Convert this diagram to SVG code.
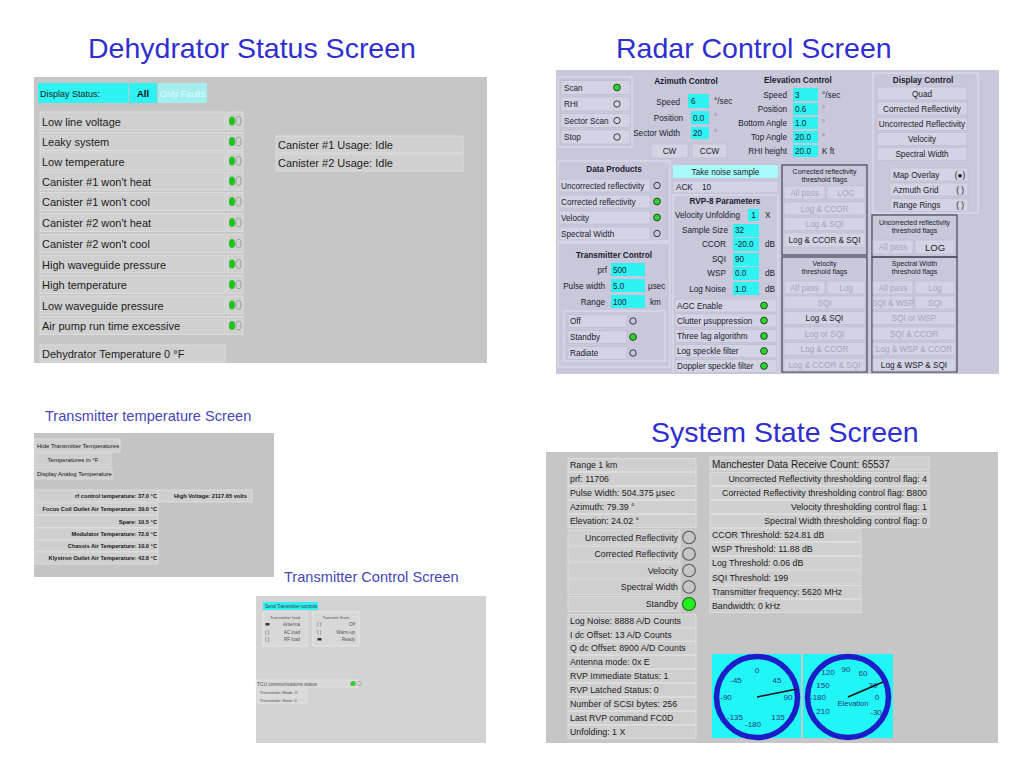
<svg xmlns="http://www.w3.org/2000/svg" width="1024" height="768" viewBox="0 0 1024 768">
<style>
text{font-family:"Liberation Sans",Arial,"DejaVu Sans",sans-serif}
.ttl{font-size:28.5px;fill:#2f2fd0}
.sub{font-size:14.6px;fill:#4646b8}
.m{text-anchor:middle}
.e{text-anchor:end}
.b{font-weight:bold}
.dh{font-size:11px;fill:#1c1c1c}
.dpanel{fill:#c6c6c6}
.drow{fill:#d0d0d0;stroke:#e2e2e2;stroke-width:0.8}
.r{font-size:8.2px;fill:#1b1b2e}
.rd{fill:#a6a6bc}
.rpanel{fill:#c8c8da}
.rbtn{fill:#d3d3e3;stroke:#bdbdd0;stroke-width:0.7}
.cy{fill:#2ff3f3}
.gl{fill:none;stroke:#e0e0ee;stroke-width:1}
.gd{fill:none;stroke:#4e4e62;stroke-width:1.3}
.tt{font-size:5.7px;fill:#161616;font-weight:bold}
.tc{font-size:4.6px;fill:#555}
.ss{font-size:8.8px;fill:#202020}
.srow{fill:#cfcfcf;stroke:#e0e0e0;stroke-width:0.8}
.gauge{fill:none;stroke:#1c1cc8;stroke-width:5.5}
.gt{font-size:8px;fill:#1f3c80;text-anchor:middle}
</style>
<defs>
<g id="dled"><ellipse cx="-3" cy="0" rx="3" ry="4.6" fill="#1fc21f"/><ellipse cx="3.5" cy="0" rx="2.6" ry="4.4" fill="none" stroke="#8aa88a" stroke-width="1"/></g>
<circle id="lon" r="3.4" fill="#2fd02f" stroke="#1c3c1c" stroke-width="0.9"/>
<circle id="loff" r="3.2" fill="none" stroke="#2a2a2a" stroke-width="0.9"/>
</defs>
<rect width="1024" height="768" fill="#ffffff"/>

<g id="titles">
<text class="ttl" x="88" y="58">Dehydrator Status Screen</text>
<text class="ttl" x="616" y="58">Radar Control Screen</text>
<text class="ttl" x="651" y="442">System State Screen</text>
<text class="sub" x="45" y="421">Transmitter temperature Screen</text>
<text class="sub" x="284" y="582">Transmitter Control Screen</text>
</g>

<g id="dehydrator-screen">
<rect class="dpanel" x="34" y="77" width="453" height="286"/>
<rect class="cy" x="38" y="83" width="90" height="20"/>
<text x="40" y="97" style="font-size:9px;fill:#1a1a1a">Display Status:</text>
<rect class="cy" x="129" y="83" width="28" height="20"/>
<text class="m b" x="143" y="97" style="font-size:9.5px;fill:#111">All</text>
<rect x="158" y="83" width="49" height="20" fill="#a4eeee"/>
<text class="m" x="182.5" y="97" style="font-size:9px;fill:#dcfcfc">Only Faults</text>

<rect class="drow" x="40" y="112" width="185" height="18"/><text class="dh" x="42" y="125.5">Low line voltage</text><rect class="drow" x="227" y="112" width="16" height="18"/><use href="#dled" x="235" y="121"/>
<rect class="drow" x="40" y="132.5" width="185" height="18"/><text class="dh" x="42" y="146">Leaky system</text><rect class="drow" x="227" y="132.5" width="16" height="18"/><use href="#dled" x="235" y="141.5"/>
<rect class="drow" x="40" y="152" width="185" height="18"/><text class="dh" x="42" y="165.5">Low temperature</text><rect class="drow" x="227" y="152" width="16" height="18"/><use href="#dled" x="235" y="161"/>
<rect class="drow" x="40" y="172" width="185" height="18"/><text class="dh" x="42" y="185.5">Canister #1 won't heat</text><rect class="drow" x="227" y="172" width="16" height="18"/><use href="#dled" x="235" y="181"/>
<rect class="drow" x="40" y="192.5" width="185" height="18"/><text class="dh" x="42" y="206">Canister #1 won't cool</text><rect class="drow" x="227" y="192.5" width="16" height="18"/><use href="#dled" x="235" y="201.5"/>
<rect class="drow" x="40" y="213.5" width="185" height="18"/><text class="dh" x="42" y="227">Canister #2 won't heat</text><rect class="drow" x="227" y="213.5" width="16" height="18"/><use href="#dled" x="235" y="222.5"/>
<rect class="drow" x="40" y="234.5" width="185" height="18"/><text class="dh" x="42" y="248">Canister #2 won't cool</text><rect class="drow" x="227" y="234.5" width="16" height="18"/><use href="#dled" x="235" y="243.5"/>
<rect class="drow" x="40" y="255" width="185" height="18"/><text class="dh" x="42" y="268.5">High waveguide pressure</text><rect class="drow" x="227" y="255" width="16" height="18"/><use href="#dled" x="235" y="264"/>
<rect class="drow" x="40" y="275.5" width="185" height="18"/><text class="dh" x="42" y="289">High temperature</text><rect class="drow" x="227" y="275.5" width="16" height="18"/><use href="#dled" x="235" y="284.5"/>
<rect class="drow" x="40" y="296" width="185" height="18"/><text class="dh" x="42" y="309.5">Low waveguide pressure</text><rect class="drow" x="227" y="296" width="16" height="18"/><use href="#dled" x="235" y="305"/>
<rect class="drow" x="40" y="316.5" width="185" height="18"/><text class="dh" x="42" y="330">Air pump run time excessive</text><rect class="drow" x="227" y="316.5" width="16" height="18"/><use href="#dled" x="235" y="325.5"/>

<rect class="drow" x="276" y="136" width="187" height="17"/><text class="dh" x="278" y="149">Canister #1 Usage:  Idle</text>
<rect class="drow" x="276" y="154" width="187" height="17"/><text class="dh" x="278" y="167">Canister #2 Usage:  Idle</text>
<rect class="drow" x="40" y="345" width="185" height="17"/><text class="dh" x="42" y="358">Dehydrator Temperature 0 °F</text>
</g>

<g id="radar-control-screen">
<rect class="rpanel" x="556" y="70" width="443" height="304"/>
<!-- scan mode -->
<rect class="gl" x="558" y="77" width="74" height="70"/>
<rect class="rbtn" x="561" y="80.5" width="69" height="14"/><text class="r" x="564" y="91">Scan</text><use href="#lon" x="617" y="87.5"/>
<rect class="rbtn" x="561" y="97" width="69" height="14"/><text class="r" x="564" y="107">RHI</text><use href="#loff" x="617" y="104"/>
<rect class="rbtn" x="561" y="113.5" width="69" height="14"/><text class="r" x="564" y="123.5">Sector Scan</text><use href="#loff" x="617" y="120.5"/>
<rect class="rbtn" x="561" y="130" width="69" height="14"/><text class="r" x="564" y="140">Stop</text><use href="#loff" x="617" y="137"/>
<!-- azimuth -->
<text class="r b m" x="686" y="84">Azimuth Control</text>
<text class="r e" x="680" y="105">Speed</text><rect class="cy" x="688" y="94" width="21" height="14"/><text class="r" x="691" y="104">6</text><text class="r" x="714" y="104">°/sec</text>
<text class="r e" x="683" y="121">Position</text><rect class="cy" x="691" y="111" width="18" height="13"/><text class="r" x="693" y="120.5">0.0</text><text class="r" x="714" y="120" style="fill:#b06060">°</text>
<text class="r e" x="680" y="136">Sector Width</text><rect class="cy" x="691" y="127" width="18" height="12"/><text class="r" x="693" y="136">20</text><text class="r" x="714" y="136" style="fill:#b06060">°</text>
<rect class="rbtn" x="651" y="144" width="37" height="14"/><text class="r m" x="669.5" y="154">CW</text>
<rect class="rbtn" x="692" y="144" width="35" height="14"/><text class="r m" x="709.5" y="154">CCW</text>
<!-- elevation -->
<text class="r b m" x="798" y="83">Elevation Control</text>
<text class="r e" x="787" y="98">Speed</text><rect class="cy" x="793" y="88" width="25" height="13"/><text class="r" x="795" y="98">3</text><text class="r" x="822" y="98">°/sec</text>
<text class="r e" x="787" y="112">Position</text><rect class="cy" x="793" y="103" width="25" height="12"/><text class="r" x="795" y="112">0.6</text><text class="r" x="822" y="112" style="fill:#b06060">°</text>
<text class="r e" x="787" y="126">Bottom Angle</text><rect class="cy" x="793" y="117" width="25" height="12"/><text class="r" x="795" y="126">1.0</text><text class="r" x="822" y="126" style="fill:#b06060">°</text>
<text class="r e" x="787" y="140">Top Angle</text><rect class="cy" x="793" y="131" width="25" height="12"/><text class="r" x="795" y="140">20.0</text><text class="r" x="822" y="140" style="fill:#b06060">°</text>
<text class="r e" x="787" y="154">RHI height</text><rect class="cy" x="793" y="145" width="25" height="12"/><text class="r" x="795" y="154">20.0</text><text class="r" x="822" y="154">K ft</text>
<!-- display control -->
<rect class="gl" x="873" y="73" width="105" height="140"/>
<text class="r b m" x="923" y="83">Display Control</text>
<rect class="rbtn" x="877" y="87" width="90" height="13"/><text class="r m" x="922" y="96.5">Quad</text>
<rect class="rbtn" x="877" y="102" width="90" height="13"/><text class="r m" x="922" y="111.5">Corrected Reflectivity</text>
<rect class="rbtn" x="877" y="117.5" width="90" height="13"/><text class="r m" x="922" y="127">Uncorrected Reflectivity</text>
<rect class="rbtn" x="877" y="132.5" width="90" height="13"/><text class="r m" x="922" y="142">Velocity</text>
<rect class="rbtn" x="877" y="147.5" width="90" height="13"/><text class="r m" x="922" y="157">Spectral Width</text>
<rect class="rbtn" x="890" y="168" width="78" height="13"/><text class="r" x="893" y="177.5">Map Overlay</text><text class="r m" x="960" y="177.5">(●)</text>
<rect class="rbtn" x="890" y="183" width="78" height="13"/><text class="r" x="893" y="192.5">Azmuth Grid</text><text class="r m" x="960" y="192.5">( )</text>
<rect class="rbtn" x="890" y="198.5" width="78" height="13"/><text class="r" x="893" y="208">Range Rings</text><text class="r m" x="960" y="208">( )</text>
<!-- data products -->
<rect class="gl" x="558" y="161" width="112" height="80"/>
<text class="r b m" x="614" y="172">Data Products</text>
<rect class="rbtn" x="559" y="179" width="91" height="13"/><text class="r" x="561" y="188.5">Uncorrected reflectivity</text><use href="#loff" x="657" y="185.5"/>
<rect class="rbtn" x="559" y="195" width="91" height="13"/><text class="r" x="561" y="204.5">Corrected reflectivity</text><use href="#lon" x="657" y="201.5"/>
<rect class="rbtn" x="559" y="211" width="91" height="13"/><text class="r" x="561" y="220.5">Velocity</text><use href="#lon" x="657" y="217.5"/>
<rect class="rbtn" x="559" y="227" width="91" height="13"/><text class="r" x="561" y="236.5">Spectral Width</text><use href="#loff" x="657" y="233.5"/>
<!-- transmitter control -->
<rect class="gl" x="558" y="243" width="112" height="124"/>
<text class="r b m" x="614" y="258">Transmitter Control</text>
<text class="r e" x="607" y="273">prf</text><rect class="cy" x="611" y="263" width="34" height="13"/><text class="r" x="613" y="273">500</text>
<text class="r e" x="605" y="289">Pulse width</text><rect class="cy" x="611" y="279" width="34" height="13"/><text class="r" x="613" y="289">5.0</text><text class="r" x="648" y="289">µsec</text>
<text class="r e" x="605" y="305">Range</text><rect class="cy" x="611" y="295" width="34" height="13"/><text class="r" x="613" y="305">100</text><text class="r" x="650" y="305">km</text>
<rect class="gl" x="564" y="311" width="101" height="50"/>
<rect class="rbtn" x="568" y="314.5" width="59" height="13"/><text class="r" x="570" y="324">Off</text><use href="#loff" x="633" y="321"/>
<rect class="rbtn" x="568" y="330.5" width="59" height="13"/><text class="r" x="570" y="340">Standby</text><use href="#lon" x="633" y="337"/>
<rect class="rbtn" x="568" y="346.5" width="59" height="13"/><text class="r" x="570" y="356">Radiate</text><use href="#loff" x="633" y="353"/>
<!-- RVP-8 -->
<rect x="673" y="165" width="105" height="13" fill="#a8fafa"/><text class="r m" x="725.5" y="174.5">Take noise sample</text>
<rect class="rbtn" x="673" y="181" width="105" height="12"/><text class="r" x="676" y="190">ACK</text><text class="r" x="702" y="190">10</text>
<rect class="gl" x="673" y="195" width="105" height="177"/>
<text class="r b m" x="725" y="204">RVP-8 Parameters</text>
<text class="r" x="675" y="218">Velocity Unfolding</text><rect class="cy" x="748" y="209" width="11" height="12"/><text class="r m" x="753.5" y="218">1</text><text class="r" x="765" y="218">X</text>
<text class="r e" x="728" y="233">Sample Size</text><rect class="cy" x="733" y="224" width="26" height="13"/><text class="r" x="735" y="233">32</text>
<text class="r e" x="726" y="247">CCOR</text><rect class="cy" x="733" y="238" width="26" height="13"/><text class="r" x="735" y="247">-20.0</text><text class="r" x="765" y="247">dB</text>
<text class="r e" x="726" y="262">SQI</text><rect class="cy" x="733" y="253" width="26" height="13"/><text class="r" x="735" y="262">90</text>
<text class="r e" x="726" y="276">WSP</text><rect class="cy" x="733" y="267" width="26" height="13"/><text class="r" x="735" y="276">0.0</text><text class="r" x="765" y="276">dB</text>
<text class="r e" x="726" y="292">Log Noise</text><rect class="cy" x="733" y="282" width="26" height="13"/><text class="r" x="735" y="292">1.0</text><text class="r" x="765" y="292">dB</text>
<rect class="rbtn" x="675" y="299" width="102" height="13"/><text class="r" x="677" y="308.5">AGC Enable</text><use href="#lon" x="764" y="305.5"/>
<rect class="rbtn" x="675" y="314" width="102" height="13"/><text class="r" x="677" y="323.5">Clutter µsuppression</text><use href="#lon" x="764" y="320.5"/>
<rect class="rbtn" x="675" y="329.5" width="102" height="13"/><text class="r" x="677" y="339">Three lag algorithm</text><use href="#lon" x="764" y="336"/>
<rect class="rbtn" x="675" y="344.5" width="102" height="13"/><text class="r" x="677" y="354">Log speckle filter</text><use href="#lon" x="764" y="351"/>
<rect class="rbtn" x="675" y="359.5" width="102" height="13"/><text class="r" x="677" y="369">Doppler speckle filter</text><use href="#lon" x="764" y="366"/>
<!-- corrected reflectivity flags -->
<rect class="gd" x="782" y="165" width="85" height="90"/>
<text class="r m" x="824.5" y="174" style="font-size:7px">Corrected reflectivity</text>
<text class="r m" x="824.5" y="182" style="font-size:7px">threshold flags</text>
<rect class="rbtn" x="784" y="186" width="41" height="13"/><text class="r rd m" x="804.5" y="195.5">All pass</text>
<rect class="rbtn" x="827" y="186" width="38" height="13"/><text class="r rd m" x="846" y="195.5">LOG</text>
<rect class="rbtn" x="784" y="202" width="81" height="13"/><text class="r rd m" x="824.5" y="211.5">Log &amp; CCOR</text>
<rect class="rbtn" x="784" y="217.5" width="81" height="13"/><text class="r rd m" x="824.5" y="227">Log &amp; SQI</text>
<rect class="rbtn" x="784" y="233" width="81" height="14"/><text class="r m" x="824.5" y="243">Log &amp; CCOR &amp; SQI</text>
<!-- uncorrected reflectivity flags -->
<rect class="gd" x="872" y="215" width="85" height="42"/>
<text class="r m" x="914.5" y="225" style="font-size:7px">Uncorrected reflectivity</text>
<text class="r m" x="914.5" y="233" style="font-size:7px">threshold flags</text>
<rect class="rbtn" x="873" y="240" width="40" height="14"/><text class="r rd m" x="893" y="250">All pass</text>
<rect class="rbtn" x="915" y="240" width="40" height="14"/><text class="r m" x="935" y="250.5" style="font-size:9.5px">LOG</text>
<!-- velocity flags -->
<rect class="gd" x="782" y="257" width="85" height="115"/>
<text class="r m" x="824.5" y="266" style="font-size:7px">Velocity</text>
<text class="r m" x="824.5" y="274" style="font-size:7px">threshold flags</text>
<rect class="rbtn" x="784" y="281" width="41" height="13"/><text class="r rd m" x="804.5" y="290.5">All pass</text>
<rect class="rbtn" x="827" y="281" width="38" height="13"/><text class="r rd m" x="846" y="290.5">Log</text>
<rect class="rbtn" x="784" y="296" width="81" height="13"/><text class="r rd m" x="824.5" y="305.5">SQI</text>
<rect class="rbtn" x="784" y="311.5" width="81" height="13"/><text class="r m" x="824.5" y="321">Log &amp; SQI</text>
<rect class="rbtn" x="784" y="327" width="81" height="13"/><text class="r rd m" x="824.5" y="336.5">Log or SQI</text>
<rect class="rbtn" x="784" y="342.5" width="81" height="13"/><text class="r rd m" x="824.5" y="352">Log &amp; CCOR</text>
<rect class="rbtn" x="784" y="358" width="81" height="13"/><text class="r rd m" x="824.5" y="367.5">Log &amp; CCOR &amp; SQI</text>
<!-- spectral width flags -->
<rect class="gd" x="872" y="257" width="85" height="115"/>
<text class="r m" x="914.5" y="266" style="font-size:7px">Spectral Width</text>
<text class="r m" x="914.5" y="274" style="font-size:7px">threshold flags</text>
<rect class="rbtn" x="873" y="281" width="40" height="13"/><text class="r rd m" x="893" y="290.5">All pass</text>
<rect class="rbtn" x="915" y="281" width="40" height="13"/><text class="r rd m" x="935" y="290.5">Log</text>
<rect class="rbtn" x="873" y="296" width="40" height="13"/><text class="r rd m" x="893" y="305.5">SQI &amp; WSP</text>
<rect class="rbtn" x="915" y="296" width="40" height="13"/><text class="r rd m" x="935" y="305.5">SQI</text>
<rect class="rbtn" x="873" y="311.5" width="82" height="13"/><text class="r rd m" x="914" y="321">SQI or WSP</text>
<rect class="rbtn" x="873" y="327" width="82" height="13"/><text class="r rd m" x="914" y="336.5">SQI &amp; CCOR</text>
<rect class="rbtn" x="873" y="342.5" width="82" height="13"/><text class="r rd m" x="914" y="352">Log &amp; WSP &amp; CCOR</text>
<rect class="rbtn" x="873" y="358" width="82" height="13"/><text class="r m" x="914" y="367.5">Log &amp; WSP &amp; SQI</text>
</g>

<g id="transmitter-temperature-screen">
<rect x="34" y="433" width="240" height="144" fill="#c4c4c4"/>
<rect class="srow" x="35" y="439" width="85" height="13"/><text class="tt" x="37" y="448" style="font-weight:normal;font-size:6px">Hide Transmitter Temperatures</text>
<rect class="srow" x="35" y="453" width="76" height="12"/><text class="tt m" x="73" y="461.5" style="font-weight:normal;font-size:6px">Temperatures in °F</text>
<rect class="srow" x="35" y="467" width="77" height="12"/><text class="tt" x="37" y="475.5" style="font-weight:normal;font-size:6px">Display Analog Temperature</text>
<rect class="srow" x="35" y="490" width="123" height="12"/><text class="tt e" x="157" y="498.2">rf control temperature:  37.0 °C</text>
<rect class="srow" x="158" y="490" width="94" height="12"/><text class="tt" x="174" y="498.2">High Voltage:  2117.65 volts</text>
<rect class="srow" x="35" y="503" width="123" height="12"/><text class="tt e" x="157" y="511.2">Focus Coil Outlet Air Temperature:  39.0 °C</text>
<rect class="srow" x="35" y="515.5" width="123" height="12"/><text class="tt e" x="157" y="523.7">Spare:  10.5 °C</text>
<rect class="srow" x="35" y="528" width="123" height="12"/><text class="tt e" x="157" y="536.2">Modulator Temperature:  72.0 °C</text>
<rect class="srow" x="35" y="540" width="123" height="12"/><text class="tt e" x="157" y="548.2">Chassis Air Temperature:  10.0 °C</text>
<rect class="srow" x="35" y="552" width="123" height="12"/><text class="tt e" x="157" y="560.2">Klystron Outlet Air Temperature:  42.8 °C</text>
</g>

<g id="transmitter-control-screen">
<rect x="256" y="596" width="230" height="147" fill="#d3d3d3"/>
<rect x="263" y="602" width="55" height="8" fill="#30f0f0"/><text class="tc" x="265" y="607.8" style="fill:#335">Send Transmitter controls</text>
<rect x="263" y="612" width="44" height="34" fill="#d8d8d8" stroke="#ececec" stroke-width="0.8"/>
<text class="tc m" x="285" y="618.5" style="font-size:4.2px">Transmitter load</text>
<rect x="265.5" y="623" width="4" height="2.5" fill="#333"/><text class="tc e" x="300" y="626">Antenna</text>
<text class="tc" x="265" y="633.5">( )</text><text class="tc e" x="300" y="633.5">AC load</text>
<text class="tc" x="265" y="641">( )</text><text class="tc e" x="300" y="641">RF load</text>
<rect x="313" y="612" width="46" height="34" fill="#d8d8d8" stroke="#ececec" stroke-width="0.8"/>
<text class="tc m" x="336" y="618.5" style="font-size:4.2px">Transmit State</text>
<text class="tc" x="317" y="626">( )</text><text class="tc e" x="355" y="626">Off</text>
<text class="tc" x="317" y="633.5">( )</text><text class="tc e" x="355" y="633.5">Warm-up</text>
<rect x="317.5" y="638" width="4" height="2.5" fill="#333"/><text class="tc e" x="355" y="641">Ready</text>
<rect x="256" y="680" width="102" height="7" fill="#d8d8d8" stroke="#ececec" stroke-width="0.6"/>
<text class="tc" x="257" y="685.5" style="font-size:4.8px">TCU communications status</text>
<circle cx="353" cy="683.5" r="2.6" fill="#33cc33"/><circle cx="359" cy="683.5" r="2.2" fill="none" stroke="#999" stroke-width="0.6"/>
<rect x="257" y="689" width="50" height="6" fill="#d8d8d8" stroke="#ececec" stroke-width="0.6"/><text class="tc" x="260" y="693.6" style="font-size:4.2px">Transmitter Mode:  0</text>
<rect x="257" y="697" width="50" height="6" fill="#d8d8d8" stroke="#ececec" stroke-width="0.6"/><text class="tc" x="260" y="701.6" style="font-size:4.2px">Transmitter State:  0</text>
</g>

<g id="system-state-screen">
<rect x="546" y="452" width="452" height="291" fill="#c6c6c6"/>
<rect class="srow" x="568" y="458.5" width="128" height="13"/><text class="ss" x="570" y="468.1">Range 1 km</text>
<rect class="srow" x="568" y="472.5" width="128" height="13"/><text class="ss" x="570" y="482.1">prf:  11706</text>
<rect class="srow" x="568" y="486.5" width="128" height="13"/><text class="ss" x="570" y="496.1">Pulse Width:  504.375 µsec</text>
<rect class="srow" x="568" y="500.5" width="128" height="13"/><text class="ss" x="570" y="510.1">Azimuth:  79.39 °</text>
<rect class="srow" x="568" y="514.5" width="128" height="13"/><text class="ss" x="570" y="524.1">Elevation:  24.02 °</text>
<rect class="srow" x="568" y="530" width="112" height="15"/><text class="ss e" x="678" y="540.6">Uncorrected Reflectivity</text><circle cx="689" cy="537.5" r="6.3" fill="none" stroke="#555" stroke-width="1.1"/>
<rect class="srow" x="568" y="546.5" width="112" height="15"/><text class="ss e" x="678" y="557.1">Corrected Reflectivity</text><circle cx="689" cy="554" r="6.3" fill="none" stroke="#555" stroke-width="1.1"/>
<rect class="srow" x="568" y="563" width="112" height="15"/><text class="ss e" x="678" y="573.6">Velocity</text><circle cx="689" cy="570.5" r="6.3" fill="none" stroke="#555" stroke-width="1.1"/>
<rect class="srow" x="568" y="579.5" width="112" height="15"/><text class="ss e" x="678" y="590.1">Spectral Width</text><circle cx="689" cy="587" r="6.3" fill="none" stroke="#555" stroke-width="1.1"/>
<rect class="srow" x="568" y="596.5" width="112" height="15"/><text class="ss e" x="678" y="607.1">Standby</text><circle cx="689" cy="604" r="6.5" fill="#22ee22" stroke="#157015" stroke-width="1.1"/>
<rect class="srow" x="568" y="614.5" width="128" height="13"/><text class="ss" x="570" y="624.1">Log Noise:  8888 A/D Counts</text>
<rect class="srow" x="568" y="628" width="128" height="13"/><text class="ss" x="570" y="637.6">I dc Offset:  13 A/D Counts</text>
<rect class="srow" x="568" y="641.5" width="128" height="13"/><text class="ss" x="570" y="651.1">Q dc Offset:  8900 A/D Counts</text>
<rect class="srow" x="568" y="655.5" width="128" height="13"/><text class="ss" x="570" y="665.1">Antenna mode:  0x E</text>
<rect class="srow" x="568" y="669.5" width="128" height="13"/><text class="ss" x="570" y="679.1">RVP Immediate Status:  1</text>
<rect class="srow" x="568" y="683.5" width="128" height="13"/><text class="ss" x="570" y="693.1">RVP Latched Status:  0</text>
<rect class="srow" x="568" y="697.5" width="128" height="13"/><text class="ss" x="570" y="707.1">Number of SCSI bytes:  256</text>
<rect class="srow" x="568" y="711.5" width="128" height="13"/><text class="ss" x="570" y="721.1">Last RVP command FC0D</text>
<rect class="srow" x="568" y="725.5" width="128" height="13"/><text class="ss" x="570" y="735.1">Unfolding:  1 X</text>

<rect class="srow" x="710" y="457" width="219" height="13"/><text class="ss" x="712" y="467.5" style="font-size:10px">Manchester Data Receive Count:  65537</text>
<rect class="srow" x="710" y="472.5" width="219" height="13"/><text class="ss e" x="927" y="482.1">Uncorrected Reflectivity thresholding control flag:  4</text>
<rect class="srow" x="710" y="486.5" width="219" height="13"/><text class="ss e" x="927" y="496.1">Corrected Reflectivity thresholding control flag:  B800</text>
<rect class="srow" x="710" y="500.5" width="219" height="13"/><text class="ss e" x="927" y="510.1">Velocity thresholding control flag:  1</text>
<rect class="srow" x="710" y="514.5" width="219" height="13"/><text class="ss e" x="927" y="524.1">Spectral Width thresholding control flag:  0</text>
<rect class="srow" x="710" y="528.5" width="151" height="13"/><text class="ss" x="712" y="538.1">CCOR Threshold:  524.81 dB</text>
<rect class="srow" x="710" y="542.5" width="151" height="13"/><text class="ss" x="712" y="552.1">WSP Threshold:  11.88 dB</text>
<rect class="srow" x="710" y="556.5" width="151" height="13"/><text class="ss" x="712" y="566.1">Log Threshold:  0.06 dB</text>
<rect class="srow" x="710" y="571" width="151" height="13"/><text class="ss" x="712" y="580.6">SQI Threshold:  199</text>
<rect class="srow" x="710" y="585.5" width="151" height="13"/><text class="ss" x="712" y="595.1">Transmitter frequency:  5620 MHz</text>
<rect class="srow" x="710" y="599.5" width="151" height="13"/><text class="ss" x="712" y="609.1">Bandwidth:  0 kHz</text>

<g id="azimuth-gauge">
<rect x="712" y="654" width="89" height="84" fill="#22f5f5"/>
<circle class="gauge" cx="757" cy="697" r="40.5"/>
<text class="gt" x="757" y="673">0</text>
<text class="gt" x="777" y="683">45</text>
<text class="gt" x="736" y="683">-45</text>
<text class="gt" x="726" y="700">-90</text>
<text class="gt" x="788" y="700">90</text>
<text class="gt" x="735" y="720">-135</text>
<text class="gt" x="778" y="720">135</text>
<text class="gt" x="753" y="727">-180</text>
<line x1="757" y1="697" x2="797" y2="689" stroke="#111" stroke-width="1.5"/>
</g>
<g id="elevation-gauge">
<rect x="803" y="654" width="90" height="84" fill="#22f5f5"/>
<circle class="gauge" cx="848" cy="697" r="40.5"/>
<text class="gt" x="828" y="675">120</text>
<text class="gt" x="846" y="672">90</text>
<text class="gt" x="863" y="676">60</text>
<text class="gt" x="823" y="688">150</text>
<text class="gt" x="873" y="688">30</text>
<text class="gt" x="818" y="700">-180</text>
<text class="gt" x="877" y="700">0</text>
<text class="gt" x="823" y="714">210</text>
<text class="gt" x="876" y="715">-30</text>
<text class="gt" x="853" y="706" style="font-size:7.5px">Elevation</text>
<line x1="848" y1="697" x2="883" y2="682" stroke="#111" stroke-width="1.5"/>
</g>
</g>
<g id="connectors"/>
</svg>
